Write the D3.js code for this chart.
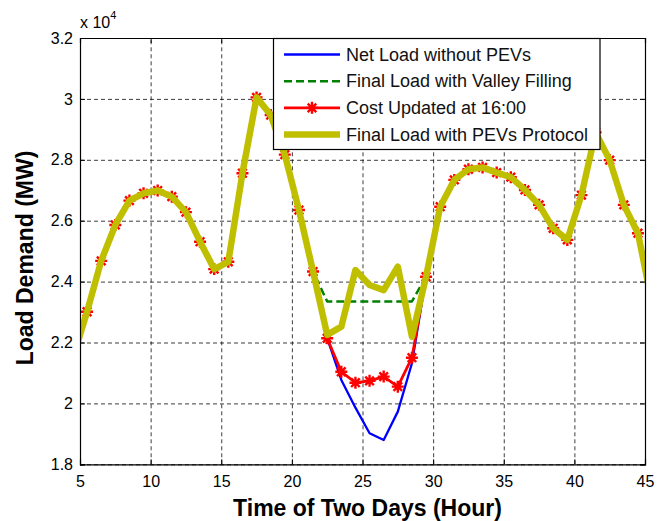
<!DOCTYPE html>
<html>
<head>
<meta charset="utf-8">
<script src="https://cdn.jsdelivr.net/npm/d3@7"></script>
<style>
  body { margin: 0; background: #fff; }
  svg { display: block; font-family: "Liberation Sans", Arial, Helvetica, sans-serif; }
</style>
</head>
<body>
<svg id="chart" width="666" height="521"></svg>
<script>
// hours (points just outside 5..45 are clipped by the axes, as in the original)
let hours = [4.5, 5.5, 6.5, 7.5, 8.5, 9.5, 10.5, 11.5, 12.5, 13.5, 14.5, 15.5, 16.5, 17.5,
  18.5, 19.5, 20.5, 21.5, 22.5, 23.5, 24.5, 25.5, 26.5, 27.5, 28.5, 29.5, 30.5, 31.5,
  32.5, 33.5, 34.5, 35.5, 36.5, 37.5, 38.5, 39.5, 40.5, 41.5, 42.5, 43.5, 44.5, 45.5]

let netLoad = [21490, 23010, 24680, 25860, 26660, 26900, 26990, 26790, 26280, 25310, 24410, 24650, 27560, 30050,
  29470, 28170, 26350, 24330, 22140, 20770, 19860, 19020, 18800, 19730, 21320, 24160, 26460, 27340,
  27690, 27750, 27580, 27430, 27010, 26520, 25750, 25370, 26840, 28900, 27990, 26520, 25590, 23300]

let valleyFill = [21490, 23010, 24680, 25860, 26660, 26900, 26990, 26790, 26280, 25310, 24410, 24650, 27560, 30050,
  29470, 28170, 26350, 24330, 23350, 23350, 23350, 23350, 23350, 23350, 23350, 24160, 26460, 27340,
  27690, 27750, 27580, 27430, 27010, 26520, 25750, 25370, 26840, 28900, 27990, 26520, 25590, 23300]

let costUpdated = [21490, 23010, 24680, 25860, 26660, 26900, 26990, 26790, 26280, 25310, 24410, 24650, 27560, 30050,
  29470, 28170, 26350, 24330, 22140, 21040, 20680, 20740, 20880, 20550, 21500, 24160, 26460, 27340,
  27690, 27750, 27580, 27430, 27010, 26520, 25750, 25370, 26840, 28900, 27990, 26520, 25590, 23300]

let pevProtocol = [21490, 23010, 24680, 25860, 26660, 26900, 26990, 26790, 26280, 25310, 24410, 24650, 27560, 30050,
  29470, 28170, 26350, 24330, 22250, 22520, 24380, 23890, 23720, 24490, 22190, 24160, 26460, 27340,
  27690, 27750, 27580, 27430, 27010, 26520, 25750, 25370, 26840, 28900, 27990, 26520, 25590, 23300]

let xTicks = [5, 10, 15, 20, 25, 30, 35, 40, 45]
let yTicks = [18000, 20000, 22000, 24000, 26000, 28000, 30000, 32000]

let legendLabels = ['Net Load without PEVs', 'Final Load with Valley Filling',
  'Cost Updated at 16:00', 'Final Load with PEVs Protocol']

let svg = d3.select('#chart')
let plotLeft = 80, plotRight = 645, plotTop = 38, plotBottom = 464.3
let w = plotRight - plotLeft, h = plotBottom - plotTop

let x = d3.scaleLinear().domain([5, 45]).range([plotLeft, plotRight])
let y = d3.scaleLinear().domain([18000, 32000]).range([plotBottom, plotTop])

svg.append('defs').append('clipPath').attr('id', 'plotClip')
  .append('rect').attr('x', plotLeft).attr('y', plotTop).attr('width', w).attr('height', h)

// grid
let grid = svg.append('g').attr('class', 'grid')
grid.append('g').attr('transform', `translate(0,${plotBottom})`)
  .call(d3.axisBottom(x).tickValues(xTicks).tickSize(-h).tickFormat(''))
grid.append('g').attr('transform', `translate(${plotLeft},0)`)
  .call(d3.axisLeft(y).tickValues(yTicks).tickSize(-w).tickFormat(''))
grid.selectAll('.domain').remove()
grid.selectAll('line')
  .attr('stroke', '#000')
  .attr('stroke-width', 0.9)
  .attr('stroke-dasharray', '4,3')
  .attr('stroke-opacity', 0.85)

// series
let line = d3.line().x((d, i) => x(hours[i])).y(d => y(d))
let plot = svg.append('g').attr('clip-path', 'url(#plotClip)')

let series = [
  { data: netLoad, color: '#0000ff', width: 2.3, dash: null },
  { data: valleyFill, color: '#008000', width: 2.5, dash: '8,4' },
  { data: costUpdated, color: '#ff0000', width: 2.8, dash: null, marker: true },
  { data: pevProtocol, color: '#bfbf00', width: 6.5, dash: null },
]

let star = 'M-6,0H6M0,-6V6M-4.3,-4.3L4.3,4.3M-4.3,4.3L4.3,-4.3'

series.forEach(s => {
  plot.append('path')
    .datum(s.data)
    .attr('d', line)
    .attr('fill', 'none')
    .attr('stroke', s.color)
    .attr('stroke-width', s.width)
    .attr('stroke-linejoin', 'round')
    .attr('stroke-dasharray', s.dash)
  if (s.marker) {
    let pts = hours.map((hr, i) => [hr, s.data[i]]).filter(p => p[0] >= 5 && p[0] <= 45)
    plot.selectAll(null)
      .data(pts)
      .join('path')
      .attr('d', star)
      .attr('transform', d => `translate(${x(d[0])},${y(d[1])})`)
      .attr('stroke', s.color)
      .attr('stroke-width', 2.4)
      .attr('fill', 'none')
  }
})

// axes with inward ticks on all four sides
let fmtY = d => String(+(d / 1e4).toFixed(1))
let axB = svg.append('g').attr('transform', `translate(0,${plotBottom})`)
  .call(d3.axisBottom(x).tickValues(xTicks).tickSize(-5).tickPadding(11).tickFormat(d3.format('d')))
let axT = svg.append('g').attr('transform', `translate(0,${plotTop})`)
  .call(d3.axisTop(x).tickValues(xTicks).tickSize(-5).tickFormat(''))
let axL = svg.append('g').attr('transform', `translate(${plotLeft},0)`)
  .call(d3.axisLeft(y).tickValues(yTicks).tickSize(-5).tickPadding(7).tickFormat(fmtY))
let axR = svg.append('g').attr('transform', `translate(${plotRight},0)`)
  .call(d3.axisRight(y).tickValues(yTicks).tickSize(-5).tickFormat(''))

;[axB, axT, axL, axR].forEach(a => {
  a.selectAll('.domain').attr('stroke', '#000').attr('stroke-width', 1.2)
  a.selectAll('line').attr('stroke', '#000')
  a.selectAll('text').attr('font-size', 16).attr('fill', '#000')
    .attr('font-family', '"Liberation Sans", Arial, sans-serif')
})

// exponent label
let expo = svg.append('text').attr('x', 80).attr('y', 28).attr('font-size', 16)
expo.append('tspan').text('x 10')
expo.append('tspan').attr('dy', -9).attr('font-size', 11).text('4')

// axis titles
svg.append('text')
  .attr('x', (plotLeft + plotRight) / 2 + 5)
  .attr('y', 516)
  .attr('text-anchor', 'middle')
  .attr('font-size', 23)
  .attr('font-weight', 'bold')
  .text('Time of Two Days (Hour)')

svg.append('text')
  .attr('transform', 'translate(33,258) rotate(-90)')
  .attr('text-anchor', 'middle')
  .attr('font-size', 23)
  .attr('font-weight', 'bold')
  .text('Load Demand (MW)')

// legend
let lg = svg.append('g')
lg.append('rect')
  .attr('x', 273.5).attr('y', 38.5).attr('width', 326.5).attr('height', 111)
  .attr('fill', '#fff').attr('stroke', '#000').attr('stroke-width', 1.2)

let rowY = d3.scalePoint().domain(legendLabels).range([54.5, 134.5])
legendLabels.forEach((lab, i) => {
  let s = series[i]
  let yy = rowY(lab)
  lg.append('line')
    .attr('x1', 284).attr('x2', 340).attr('y1', yy).attr('y2', yy)
    .attr('stroke', s.color).attr('stroke-width', s.width)
    .attr('stroke-dasharray', s.dash)
  if (s.marker) {
    lg.append('path').attr('d', star)
      .attr('transform', `translate(312,${yy})`)
      .attr('stroke', s.color).attr('stroke-width', 2.4).attr('fill', 'none')
  }
  lg.append('text')
    .attr('x', 346).attr('y', yy + 6.3)
    .attr('font-size', 18)
    .attr('fill', '#111')
    .text(lab)
})
</script>
</body>
</html>
